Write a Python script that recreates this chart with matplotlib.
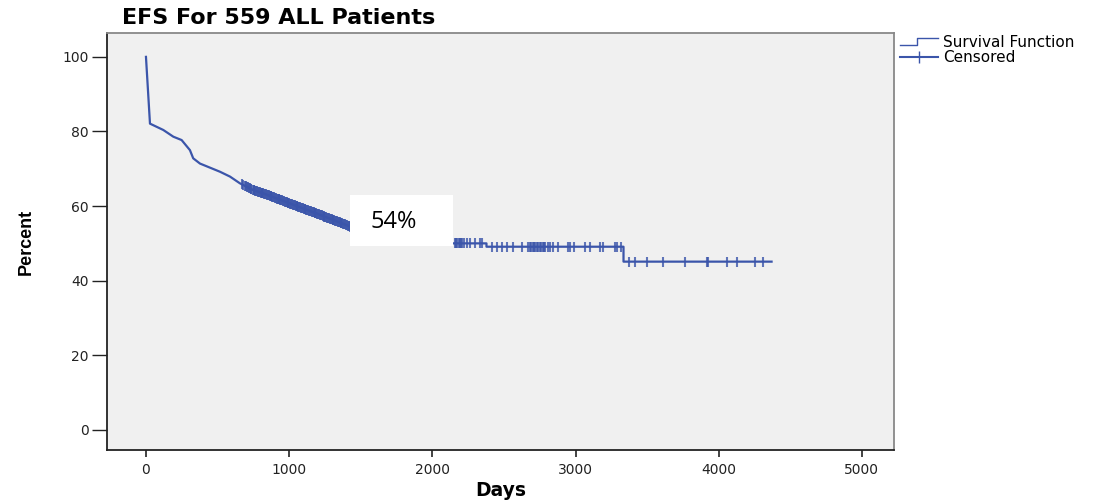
import matplotlib
matplotlib.use("Agg")
import matplotlib.pyplot as plt
import numpy as np
from matplotlib.lines import Line2D
from matplotlib.patches import Rectangle
from matplotlib.legend_handler import HandlerBase

#===========================================================#
#                          数据                              #
#===========================================================#
# 生存曲线 (Days, Percent)
days = [0, 28, 121, 191, 249, 307, 330, 377, 447, 517, 587, 656, 749, 819,
        1006, 1192, 1401, 1425, 1600, 1800, 2000, 2145, 2378, 2378, 3335, 3335, 4369]
pct = [100, 82.1, 80.4, 78.6, 77.7, 75.0, 72.8, 71.4, 70.3, 69.2, 67.9, 66.1, 64.3, 63.4,
       60.7, 58.0, 54.9, 54.5, 53.2, 51.8, 50.8, 50.0, 50.0, 49.1, 49.1, 45.1, 45.1]

# 删失时间点
censor_days = [672, 681, 690, 697, 703, 711, 718, 724, 731, 737, 744, 751, 757, 763,
               769, 776, 782, 788, 795, 801, 807, 813, 820, 826, 832, 838, 845, 851,
               857, 863, 870, 876, 882, 889, 895, 901, 907, 914, 920, 926, 932, 939,
               945, 951, 957, 964, 970, 976, 983, 989, 995, 1001, 1008, 1014, 1020,
               1026, 1033, 1039, 1045, 1052, 1058, 1064, 1070, 1077, 1083, 1089, 1095,
               1102, 1108, 1114, 1121, 1127, 1133, 1139, 1146, 1152, 1158, 1165, 1171,
               1177, 1183, 1190, 1196, 1202, 1208, 1215, 1221, 1227, 1234, 1240, 1246,
               1252, 1259, 1265, 1271, 1278, 1284, 1290, 1296, 1303, 1309, 1315, 1321,
               1328, 1334, 1340, 1347, 1353, 1359, 1365, 1372, 1378, 1384, 1390, 1397,
               1403, 1409, 1416, 1422, 1428,
               2160, 2168, 2175, 2183, 2190, 2198, 2205, 2220, 2240, 2260, 2295, 2330, 2350,
               2414, 2449, 2484, 2519, 2565, 2624, 2668, 2680, 2690, 2700, 2710, 2720,
               2730, 2740, 2750, 2760, 2770, 2780, 2790, 2805, 2821, 2842, 2877, 2947,
               2958, 2988, 3065, 3100, 3170, 3191, 3275, 3289, 3320,
               3375, 3415, 3497, 3613, 3764, 3915, 3925, 4055, 4125, 4253, 4311]

title = "EFS For 559 ALL Patients"
note = "54%"
#===========================================================#

BLUE = "#3b55aa"


class StepHandler(HandlerBase):
    # 图例中的阶梯线
    def create_artists(self, legend, orig_handle, xdescent, ydescent,
                       width, height, fontsize, trans):
        x = [-xdescent, -xdescent + width * 0.45, -xdescent + width * 0.45, -xdescent + width]
        y = [height * 0.2 - ydescent, height * 0.2 - ydescent,
             height * 0.85 - ydescent, height * 0.85 - ydescent]
        ln = Line2D(x, y, color=BLUE, lw=1, transform=trans)
        return [ln]


plt.rcParams['font.family'] = ['DejaVu Sans']

fig = plt.figure(figsize=(11.09, 5.0), dpi=100)
ax = fig.add_axes([0.0965, 0.1, 0.7095, 0.834])
ax.set_facecolor("#f0f0f0")

ax.plot(days, pct, color=BLUE, lw=1.6, zorder=3)
censor_pct = np.interp(censor_days, days, pct)
ax.plot(censor_days, censor_pct, ls='none', marker='|', ms=7.5, mew=1.5,
        color=BLUE, alpha=0.8, zorder=3)

# 54% 标注框
ax.add_patch(Rectangle((1425, 49.3), 720, 13.8, facecolor='white',
                       edgecolor='none', zorder=4))
ax.text(1732, 55.6, note, fontsize=17, family=['Open Sans', 'DejaVu Sans'],
        ha='center', va='center', zorder=5)

ax.set_xlim(-272, 5223)
ax.set_ylim(-5.4, 106.4)
ax.set_xticks([0, 1000, 2000, 3000, 4000, 5000])
ax.set_yticks([0, 20, 40, 60, 80, 100])
ax.tick_params(axis='y', length=11, width=1, labelsize=10, pad=2, colors='#222222')
ax.tick_params(axis='x', length=5, width=1.2, labelsize=10, pad=4, colors='#222222')

for s in ['left', 'bottom']:
    ax.spines[s].set_color('#222222')
    ax.spines[s].set_linewidth(1.3)
for s in ['top', 'right']:
    ax.spines[s].set_color('#888888')
    ax.spines[s].set_linewidth(1.3)

ax.set_xlabel("Days", fontsize=13.5, fontweight='bold', labelpad=3)
ax.set_ylabel("Percent", fontsize=13, fontweight='bold',
              family=['Liberation Sans Narrow', 'Liberation Sans'], labelpad=20)

fig.text(0.11, 0.965, title, fontsize=16, fontweight='bold', ha='left', va='center')

h_surv = Line2D([], [], color=BLUE)
h_cens = Line2D([], [], color=BLUE, marker='|', ms=8, mew=1)
ax.legend([h_surv, h_cens], ["Survival Function", "Censored"],
          handler_map={h_surv: StepHandler()},
          loc='upper left', bbox_to_anchor=(1.0, 1.01), frameon=False,
          fontsize=11, handlelength=2.5, handletextpad=0.3, labelspacing=0.0,
          borderaxespad=0.2, borderpad=0.2, numpoints=1)

plt.savefig("out.png", dpi=100)
